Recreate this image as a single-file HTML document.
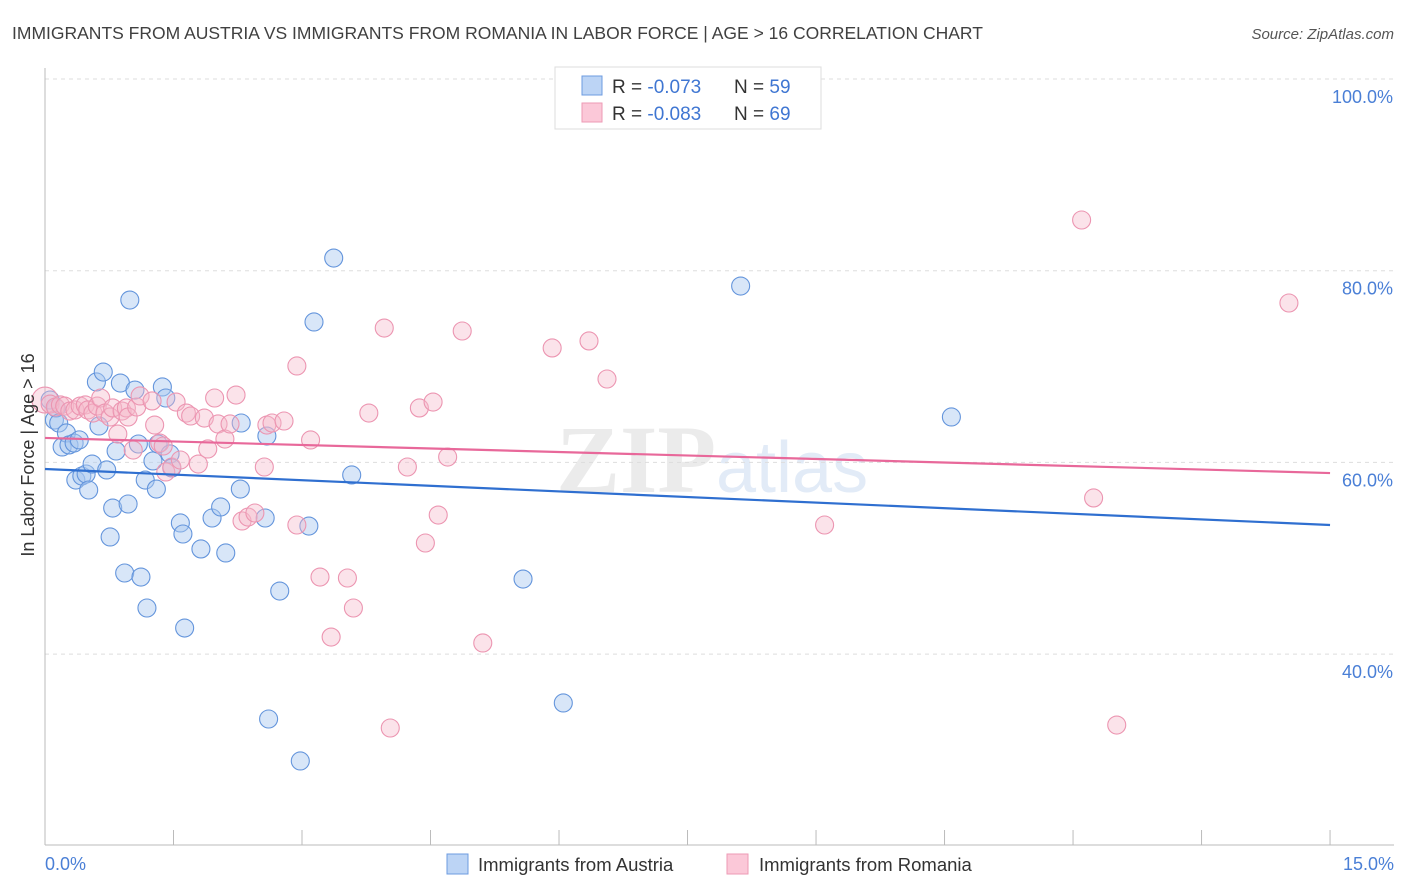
<!DOCTYPE html>
<html><head><meta charset="utf-8"><style>
body{margin:0;background:#fff;font-family:"Liberation Sans",sans-serif}
svg{display:block}
</style></head><body>
<svg id="c" width="1406" height="892" xmlns="http://www.w3.org/2000/svg">
<text x="12" y="39" font-size="17.5" fill="#404040">IMMIGRANTS FROM AUSTRIA VS IMMIGRANTS FROM ROMANIA IN LABOR FORCE | AGE &gt; 16 CORRELATION CHART</text>
<text x="1394" y="39" font-size="15" font-style="italic" fill="#555" text-anchor="end">Source: ZipAtlas.com</text>
<text x="716" y="492" font-size="96" font-family="Liberation Serif" fill="#ebebeb" text-anchor="end" font-weight="bold">ZIP</text>
<text x="716" y="492" font-size="72" fill="#e2ebf7">atlas</text>
<g id="grid"></g>
<g id="pts"></g>
<g id="lines"></g>
<text transform="translate(34,455) rotate(-90)" font-size="18" fill="#333" text-anchor="middle">In Labor Force | Age &gt; 16</text>
<text x="45" y="870" font-size="18" fill="#4a7fd6">0.0%</text>
<text x="1394" y="870" font-size="18" fill="#4a7fd6" text-anchor="end">15.0%</text>
<g>
<rect x="555" y="67" width="266" height="62" fill="#fff" stroke="#ddd"/>
<rect x="582" y="76" width="20" height="19" fill="#bcd4f5" stroke="#6d9be0"/>
<rect x="582" y="103" width="20" height="19" fill="#fbc8d8" stroke="#ee9ab5"/>
<text x="612" y="93" font-size="19" fill="#333">R = <tspan fill="#3f76d2">-0.073</tspan><tspan x="734">N = </tspan><tspan fill="#3f76d2">59</tspan></text>
<text x="612" y="120" font-size="19" fill="#333">R = <tspan fill="#3f76d2">-0.083</tspan><tspan x="734">N = </tspan><tspan fill="#3f76d2">69</tspan></text>
</g>
<g>
<rect x="447" y="854" width="21" height="20" fill="#bcd4f5" stroke="#6d9be0"/>
<text x="478" y="871" font-size="18.5" fill="#333">Immigrants from Austria</text>
<rect x="727" y="854" width="21" height="20" fill="#fbc8d8" stroke="#ee9ab5"/>
<text x="759" y="871" font-size="18.5" fill="#333">Immigrants from Romania</text>
</g>
</svg>
<script>
const austriaX=[0.11,0.13,0.16,0.20,0.25,0.28,0.34,0.36,0.40,0.43,0.48,0.51,0.55,0.60,0.63,0.68,0.72,0.79,0.76,0.83,0.88,0.93,0.97,0.99,1.05,1.09,1.12,1.17,1.19,1.26,1.30,1.32,1.37,1.41,1.46,1.48,1.58,1.61,1.63,1.82,1.95,2.05,2.11,2.28,2.29,2.57,2.59,2.61,2.74,2.98,3.08,3.14,3.37,3.58,5.58,6.05,8.12,10.58,0.06];
const austriaY=[64.42,65.68,64.11,61.61,63.07,61.82,62.02,58.16,62.35,58.58,58.79,57.12,59.83,68.39,63.80,69.43,59.21,55.24,52.22,61.19,68.28,48.46,55.66,76.94,67.55,61.92,48.04,58.16,44.81,60.15,57.22,61.92,67.87,66.72,60.88,59.42,53.68,52.53,42.72,50.97,54.20,55.35,50.55,57.22,64.11,54.20,62.75,33.23,46.58,28.85,53.36,74.65,81.32,58.69,47.83,34.90,78.40,64.74,66.51];
const romaniaX=[0.0,0.06,0.12,0.18,0.23,0.29,0.35,0.41,0.47,0.50,0.56,0.61,0.65,0.70,0.76,0.79,0.85,0.90,0.95,0.97,1.03,1.07,1.11,1.25,1.28,1.34,1.38,1.41,1.48,1.53,1.58,1.65,1.70,1.79,1.86,1.90,1.98,2.02,2.10,2.16,2.23,2.30,2.37,2.45,2.56,2.59,2.65,2.79,2.94,2.94,3.10,3.21,3.34,3.53,3.60,3.78,3.96,4.03,4.23,4.37,4.44,4.53,4.59,4.70,4.87,5.11,5.92,6.35,6.56,9.10,12.10,12.24,12.51,14.52];
const romaniaY=[66.5,66.09,65.78,65.99,65.88,65.36,65.47,65.88,65.99,65.47,65.15,65.88,66.72,65.15,64.74,65.68,62.96,65.36,65.68,64.74,61.29,65.78,66.93,66.41,63.90,62.02,61.71,59.00,59.52,66.30,60.25,65.15,64.84,59.83,64.63,61.40,66.72,64.01,62.44,64.01,67.03,53.89,54.30,54.72,59.52,63.90,64.11,64.32,70.06,53.47,62.34,48.04,41.78,47.94,44.81,65.15,74.02,32.29,59.52,65.68,51.59,66.30,54.51,60.56,73.71,41.16,71.94,72.67,68.70,53.47,85.29,56.29,32.60,76.63];
const trendAustria=[59.31,53.47];
const trendRomania=[62.55,58.89];
const yTicks=[100,80,60,40];
const xTicks=[0,1.5,3,4.5,6,7.5,9,10.5,12,13.5,15];
const NS="http://www.w3.org/2000/svg";
function sx(v){return 45+v*85.67;}
function sy(v){return 79+(100-v)*9.585;}
function mk(t,a,p){const e=document.createElementNS(NS,t);for(const k in a)e.setAttribute(k,a[k]);p.appendChild(e);return e;}
const grid=document.getElementById('grid');
yTicks.forEach(t=>{
 const l=mk('line',{x1:45,x2:1394,y1:sy(t),y2:sy(t),stroke:'#ddd','stroke-dasharray':'4 4'},grid);
 
 
 const tx=mk('text',{x:1393,y:sy(t)+24,'font-size':18,fill:'#4a7fd6','text-anchor':'end'},grid);
 tx.textContent=t.toFixed(1)+'%';
 
 
});
const ax=mk('line',{x1:45,x2:1394,y1:845,y2:845,stroke:'#bbb'},grid);


const yax=mk('line',{x1:45,x2:45,y1:68,y2:845,stroke:'#bbb'},grid);


xTicks.forEach(t=>{
 const l=mk('line',{x1:sx(t),x2:sx(t),y1:830,y2:845,stroke:'#bbb'},grid);
 
 
});
const pts=document.getElementById('pts');
austriaX.forEach((x,i)=>{
 const c=mk('circle',{cx:sx(x),cy:sy(austriaY[i]),r:9,fill:'#a9c8f0','fill-opacity':0.45,stroke:'#6495dc','stroke-width':1.1},pts);
 
 
});
romaniaX.forEach((x,i)=>{
 const c=mk('circle',{cx:sx(x),cy:sy(romaniaY[i]),r:i===0?13:9,fill:'#f5b8cb','fill-opacity':0.4,stroke:'#ec95b1','stroke-width':1.1},pts);
 
 
});
const lines=document.getElementById('lines');
const la=mk('line',{x1:sx(0),x2:sx(15),y1:sy(trendAustria[0]),y2:sy(trendAustria[1]),stroke:'#2f6fd0','stroke-width':2.2},lines);


const lr=mk('line',{x1:sx(0),x2:sx(15),y1:sy(trendRomania[0]),y2:sy(trendRomania[1]),stroke:'#e8689a','stroke-width':2.2},lines);


</script>
</body></html>
